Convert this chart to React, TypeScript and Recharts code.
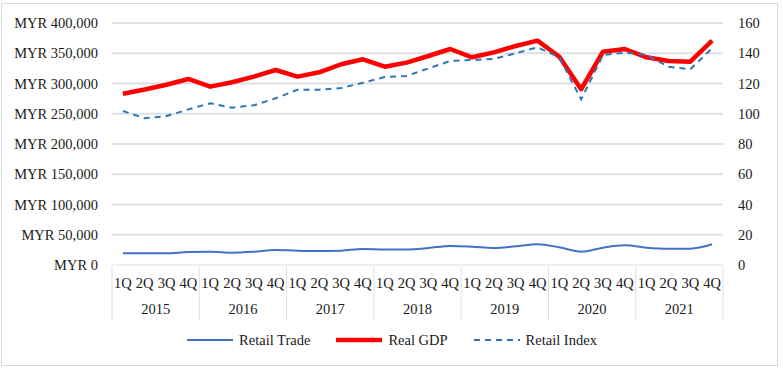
import React from 'react';
import { LineChart, Line, XAxis, YAxis, CartesianGrid } from 'recharts';

const years = ['2015', '2016', '2017', '2018', '2019', '2020', '2021'];
const quarters = ['1Q', '2Q', '3Q', '4Q'];

const retailTrade = [
  19300, 19300, 19300, 21500, 22000, 20400, 21900, 24800,
  23700, 23200, 23700, 26400, 25800, 25800, 28100, 31600,
  30300, 28100, 30900, 34200, 29200, 22000, 28700, 32500,
  28700, 27000, 27000, 34200,
];
const realGDP = [
  283000, 290000, 298000, 307500, 294800, 302000, 311300, 322300,
  311300, 318500, 331800, 340000, 327800, 334500, 345500, 357000,
  343300, 351500, 362000, 370800, 344300, 290500, 352500, 357000,
  343300, 337300, 336000, 370800,
];
const retailIndex = [
  101.8, 97.0, 98.5, 102.9, 106.9, 104.0, 105.6, 110.2,
  115.9, 115.9, 117.0, 120.5, 124.3, 125.0, 130.0, 134.9,
  135.5, 136.2, 140.0, 143.9, 137.3, 109.5, 138.8, 140.4,
  138.8, 131.1, 129.4, 143.3,
];

const leftTicks = [0, 50000, 100000, 150000, 200000, 250000, 300000, 350000, 400000];
const rightTicks = [0, 20, 40, 60, 80, 100, 120, 140, 160];

const data = retailTrade.map((_, i) => ({
  key: `${years[Math.floor(i / 4)]}-${quarters[i % 4]}`,
  quarter: quarters[i % 4],
  year: years[Math.floor(i / 4)],
  retailTrade: retailTrade[i],
  realGDP: realGDP[i],
  retailIndex: retailIndex[i],
}));

const W = 783;
const H = 369;
const LEFT_W = 112;
const RIGHT_W = 60;
const PLOT_W = W - LEFT_W - RIGHT_W;
const BAND = PLOT_W / data.length;
const FONT = '"Liberation Serif", "Times New Roman", serif';
const TEXT = '#1a1a1a';
const GRID = '#DCE0E6';

const QuarterTick = (props: any) => {
  const { x, y, payload, index } = props;
  const i = payload && typeof payload.index === 'number' ? payload.index : index;
  const row = data[i];
  return (
    <g>
      <text x={x} y={y + 16} dy="0.355em" textAnchor="middle" fontSize={14.5} fontFamily={FONT} fill={TEXT}>
        {row ? row.quarter : ''}
      </text>
      {i % 4 === 0 && (
        <>
          <line x1={x - BAND / 2} x2={x - BAND / 2} y1={y} y2={y + 53} stroke={GRID} strokeWidth={1} />
          <text x={x + BAND * 1.5} y={y + 42} dy="0.355em" textAnchor="middle" fontSize={14.5} fontFamily={FONT} fill={TEXT}>
            {row ? row.year : ''}
          </text>
        </>
      )}
      {i === data.length - 1 && (
        <line x1={x + BAND / 2} x2={x + BAND / 2} y1={y} y2={y + 53} stroke={GRID} strokeWidth={1} />
      )}
    </g>
  );
};

const LegendItem = ({ color, width, dash, label, last }: { color: string; width: number; dash?: string; label: string; last?: boolean }) => (
  <div style={{ display: 'flex', alignItems: 'center', marginRight: last ? 0 : 25 }}>
    <svg width={48} height={10} style={{ marginRight: 5 }}>
      <line x1={1} x2={47} y1={5} y2={5} stroke={color} strokeWidth={width} strokeDasharray={dash} />
    </svg>
    <span>{label}</span>
  </div>
);

export default function App() {
  return (
    <div style={{ position: 'absolute', left: 0, top: 0, width: W, height: H, background: '#fff' }}>
      <div
        style={{
          position: 'absolute',
          left: 1,
          top: 3,
          width: 775,
          height: 361,
          border: '1px solid #D9D9D9',
        }}
      />
      <div style={{ position: 'absolute', left: 0, top: 0 }}>
        <LineChart width={W} height={H} data={data} margin={{ top: 23, right: 0, bottom: 44, left: 0 }}>
          <CartesianGrid
            yAxisId="left"
            vertical={false}
            horizontalValues={leftTicks.slice(1)}
            stroke={GRID}
            strokeWidth={2}
          />
          <XAxis
            dataKey="key"
            interval={0}
            height={60}
            tickSize={0}
            tickLine={false}
            padding={{ left: BAND / 2, right: BAND / 2 }}
            axisLine={{ stroke: GRID, strokeWidth: 1 }}
            tick={<QuarterTick />}
          />
          <YAxis
            yAxisId="left"
            width={LEFT_W}
            domain={[0, 400000]}
            ticks={leftTicks}
            interval={0}
            axisLine={false}
            tickLine={false}
            tickSize={0}
            tickMargin={14}
            tick={{ fontSize: 14.5, fontFamily: FONT, fill: TEXT }}
            tickFormatter={(v: number) => 'MYR ' + v.toLocaleString('en-US')}
          />
          <YAxis
            yAxisId="right"
            orientation="right"
            width={RIGHT_W}
            domain={[0, 160]}
            ticks={rightTicks}
            interval={0}
            axisLine={false}
            tickLine={false}
            tickSize={0}
            tickMargin={15}
            tick={{ fontSize: 14.5, fontFamily: FONT, fill: TEXT, textAnchor: 'start' }}
          />
          <Line
            yAxisId="left"
            type="monotone"
            dataKey="retailTrade"
            stroke="#4472C4"
            strokeWidth={2}
            dot={false}
            activeDot={false}
            isAnimationActive={false}
          />
          <Line
            yAxisId="left"
            type="linear"
            dataKey="realGDP"
            stroke="#FF0000"
            strokeWidth={4.5}
            strokeLinejoin="round"
            dot={false}
            activeDot={false}
            isAnimationActive={false}
          />
          <Line
            yAxisId="right"
            type="linear"
            dataKey="retailIndex"
            stroke="#2E75B6"
            strokeWidth={2}
            strokeDasharray="6 5"
            dot={false}
            activeDot={false}
            isAnimationActive={false}
          />
        </LineChart>
      </div>
      <div
        style={{
          position: 'absolute',
          left: 0,
          top: 329,
          width: W,
          height: 22,
          display: 'flex',
          justifyContent: 'center',
          alignItems: 'center',
          fontFamily: FONT,
          fontSize: 14.5,
          color: TEXT,
        }}
      >
        <LegendItem color="#4472C4" width={2} label="Retail Trade" />
        <LegendItem color="#FF0000" width={4.5} label="Real GDP" />
        <LegendItem color="#2E75B6" width={2} dash="6 5" label="Retail Index" last />
      </div>
    </div>
  );
}
